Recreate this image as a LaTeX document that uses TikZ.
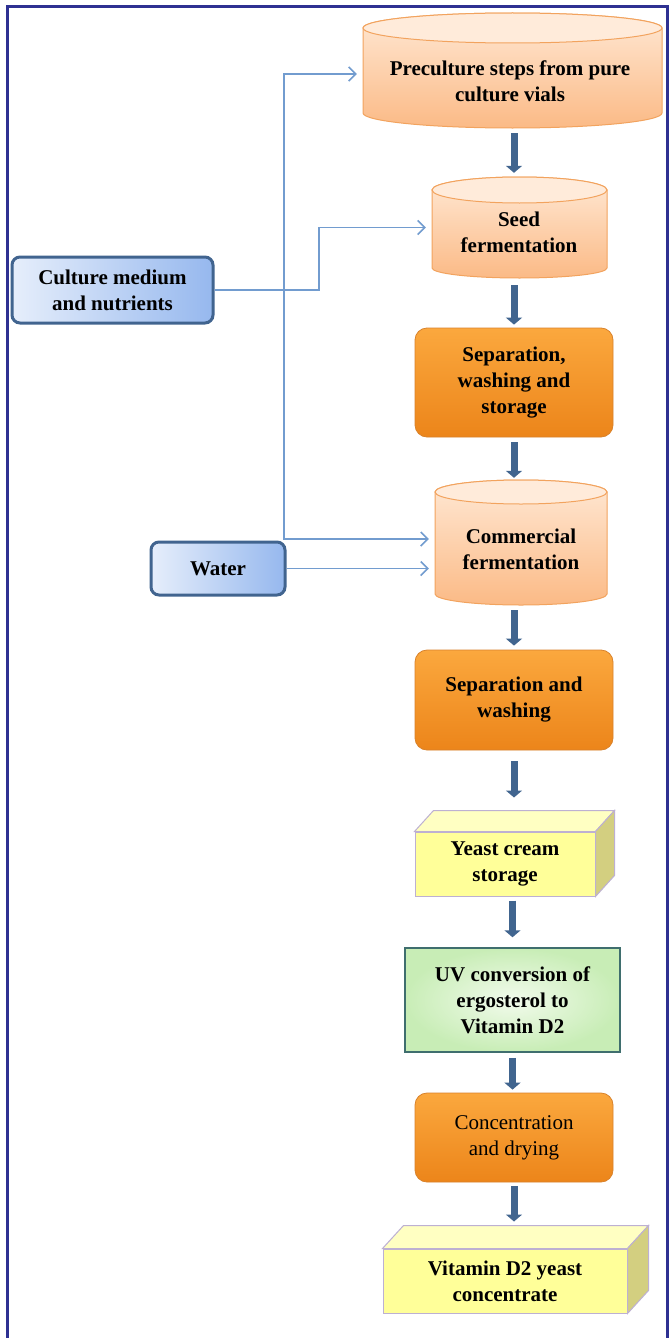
\documentclass[tikz,border=0pt]{standalone}
\usepackage{fontspec}
\setmainfont{Liberation Serif}
\usetikzlibrary{arrows.meta}
\definecolor{frameC}{HTML}{2E3192}
\definecolor{feedC}{HTML}{729CCF}
\definecolor{flowC}{HTML}{41658F}
\definecolor{cylTop}{HTML}{FFE8D4}
\definecolor{cylBot}{HTML}{FBBA86}
\definecolor{cylCap}{HTML}{FFEBDA}
\definecolor{cylLine}{HTML}{F2A35E}
\definecolor{orTop}{HTML}{FBA83E}
\definecolor{orMid}{HTML}{F7941D}
\definecolor{orBot}{HTML}{EC851A}
\definecolor{orLine}{HTML}{D9822B}
\definecolor{bluL}{HTML}{E6EEFB}
\definecolor{bluR}{HTML}{96B8EE}
\definecolor{bluLine}{HTML}{41648F}
\definecolor{grIn}{HTML}{F2FBEC}
\definecolor{grOut}{HTML}{C8EDB6}
\definecolor{grLine}{HTML}{3F6E6E}
\definecolor{cubeFront}{HTML}{FFFF99}
\definecolor{cubeTop}{HTML}{FFFFC2}
\definecolor{cubeSide}{HTML}{D3CF80}
\definecolor{cubeLine}{HTML}{BDB0D2}
\begin{document}
\begin{tikzpicture}[x=1pt,y=-1pt,
  txt/.style={font=\fontsize{21}{26}\selectfont\bfseries, align=center, inner sep=0pt},
  slot/.style={draw=none, inner sep=0pt},
  obox/.style={txt, rounded corners=12pt, top color=orTop, middle color=orMid, bottom color=orBot, draw=orLine, line width=0.8pt},
  bbox/.style={txt, rounded corners=8pt, left color=bluL, right color=bluR, draw=bluLine, line width=3pt},
  gbox/.style={txt, inner color=grIn, outer color=grOut, draw=grLine, line width=1.5pt},
  cube/.style={txt, fill=cubeFront, draw=cubeLine, line width=1pt},
  cyl/.style={top color=cylTop, bottom color=cylBot, draw=cylLine, line width=1pt},
  cylcap/.style={fill=cylCap, draw=cylLine, line width=1pt},
  feed/.style={draw=feedC, line width=1.5pt, -{Straight Barb[length=7pt,width=14pt,line width=1.5pt]}, shorten >=6pt},
  feedline/.style={draw=feedC, line width=1.5pt},
  flow/.style={draw=flowC, line width=7pt, -{Triangle[length=7pt,width=16pt]}}
]
\useasboundingbox (0,0) rectangle (670,1338);
\fill[white] (0,0) rectangle (670,1338);
\draw[frameC, line width=3pt] (7,7) rectangle (667,1350);

% cylinders
\shade[cyl] (363,28) -- (363,113) arc[start angle=180,end angle=0,x radius=149.5,y radius=15] -- (662,28) arc[start angle=0,end angle=-180,x radius=149.5,y radius=15] -- cycle;
\filldraw[cylcap] (512.5,28) ellipse[x radius=149.5,y radius=15];
\shade[cyl] (432,190) -- (432,268) arc[start angle=180,end angle=0,x radius=87.5,y radius=10] -- (607,190) arc[start angle=0,end angle=-180,x radius=87.5,y radius=13] -- cycle;
\filldraw[cylcap] (519.5,190) ellipse[x radius=87.5,y radius=13];
\shade[cyl] (435,492) -- (435,594) arc[start angle=180,end angle=0,x radius=86,y radius=11] -- (607,492) arc[start angle=0,end angle=-180,x radius=86,y radius=12] -- cycle;
\filldraw[cylcap] (521,492) ellipse[x radius=86,y radius=12];

\node[slot, minimum width=299pt, minimum height=115pt] (pre) at (512.5,70.5) {};
\node[txt] (preT) at (510,81.5) {Preculture steps from pure\\culture vials};
\node[slot, minimum width=175pt, minimum height=101pt] (seed) at (519.5,227.5) {};
\node[txt] (seedT) at (519,232.5) {Seed\\fermentation};
\node[slot, minimum width=172pt, minimum height=125pt] (comm) at (521,542.5) {};
\node[txt] (commT) at (521,549) {Commercial\\fermentation};

% boxes
\node[obox, minimum width=198pt, minimum height=109pt] (sep1) at (514,382.5) {Separation,\\washing and\\storage};
\node[obox, minimum width=198pt, minimum height=100pt] (sep2) at (514,700) {Separation and\\washing};
\node[obox, font=\fontsize{21}{26}\selectfont, minimum width=198pt, minimum height=89pt] (conc) at (514,1137.5) {Concentration\\and drying};
\node[gbox, minimum width=215pt, minimum height=104pt] (uv) at (512.5,1000) {UV conversion of\\ergosterol to\\Vitamin D2};
\node[bbox, minimum width=201pt, minimum height=66pt] (culture) at (112.5,290) {Culture medium\\and nutrients};
\node[bbox, minimum width=134pt, minimum height=53pt] (water) at (218,568.5) {Water};

% cubes
\node[cube, minimum width=180pt, minimum height=64pt] (yeast) at (505,864) {Yeast cream\\storage};
\filldraw[fill=cubeTop, draw=cubeLine, line width=1pt] (yeast.north west) -- ++(19,-21) -- ([shift={(19,-21)}]yeast.north east) -- (yeast.north east) -- cycle;
\filldraw[fill=cubeSide, draw=cubeLine, line width=1pt] (yeast.north east) -- ++(19,-21) -- ([shift={(19,-21)}]yeast.south east) -- (yeast.south east) -- cycle;
\node[cube, minimum width=244pt, minimum height=64pt] (vit) at (505,1281) {Vitamin D2 yeast\\concentrate};
\filldraw[fill=cubeTop, draw=cubeLine, line width=1pt] (vit.north west) -- ++(21,-23) -- ([shift={(21,-23)}]vit.north east) -- (vit.north east) -- cycle;
\filldraw[fill=cubeSide, draw=cubeLine, line width=1pt] (vit.north east) -- ++(21,-23) -- ([shift={(21,-23)}]vit.south east) -- (vit.south east) -- cycle;

% feed connectors
\coordinate (j) at (284,290);
\draw[feedline] (culture.east) -- (j);
\draw[feed] (j) -- ++(35,0) |- (seed.west);
\draw[feed] (j) |- (pre.west |- 0,74);
\draw[feed] (j) |- (comm.west |- 0,539);
\draw[feed] (water.east) -- (comm.west |- water.east);

% flow arrows
\draw[flow, shorten <=5pt, shorten >=4pt] (sep1.north |- pre.south) -- (sep1.north |- seed.north);
\draw[flow, shorten <=7pt, shorten >=3pt] (sep1.north |- seed.south) -- (sep1.north);
\draw[flow, shorten <=5pt, shorten >=2pt] (sep1.south) -- (sep1.south |- comm.north);
\draw[flow, shorten <=5pt, shorten >=4pt] (sep2.north |- comm.south) -- (sep2.north);
\draw[flow, shorten <=11pt, shorten >=34pt] (sep2.south) -- (sep2.south |- yeast.north);
\draw[flow, shorten <=4pt, shorten >=10pt] (uv.north |- yeast.south) -- (uv.north);
\draw[flow, shorten <=5pt, shorten >=3pt] (uv.south) -- (uv.south |- conc.north);
\draw[flow, shorten <=4pt, shorten >=27pt] (conc.south) -- (conc.south |- vit.north);
\end{tikzpicture}
\end{document}
